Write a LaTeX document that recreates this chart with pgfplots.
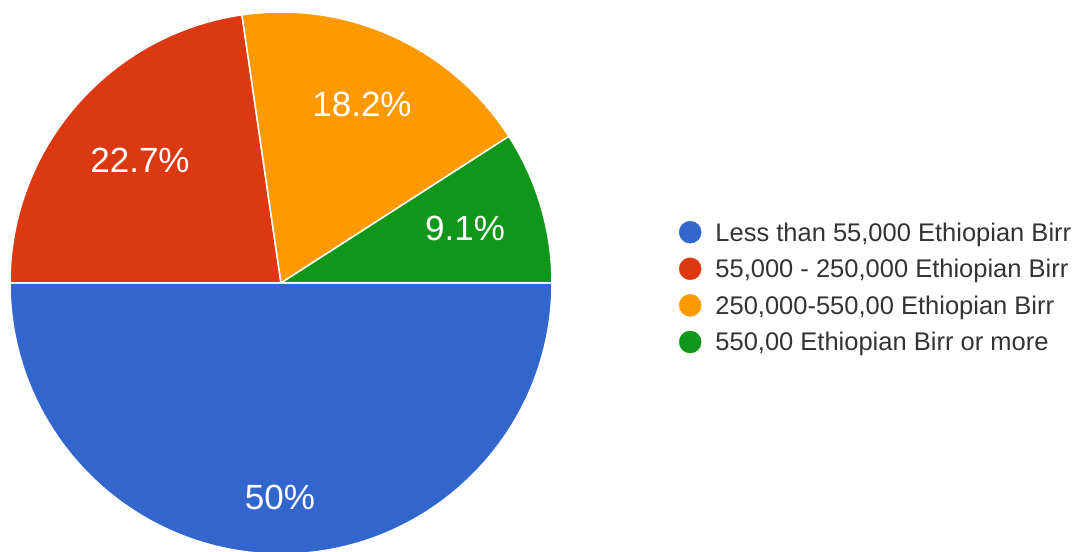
\documentclass[border=0pt]{standalone}
\usepackage{pgfplots}
\pgfplotsset{compat=1.18}
\usepackage{fontspec}
\setmainfont{Liberation Sans}
\definecolor{gblue}{HTML}{3366CC}
\definecolor{gred}{HTML}{DC3912}
\definecolor{gorange}{HTML}{FF9900}
\definecolor{ggreen}{HTML}{109618}
\definecolor{gtext}{HTML}{333333}
\begin{document}
\begin{tikzpicture}
\begin{axis}[
  at={(0,0)}, anchor=south west,
  x=1bp, y=1bp, xmin=0, xmax=1081, ymin=0, ymax=552,
  hide axis, clip=true,
  legend image code/.code={\fill (0bp,2bp) circle (11bp);},
  legend cell align=left,
  legend style={at={(axis cs:679,331)}, anchor=north west, draw=none, fill=none,
    inner sep=0pt, outer sep=0pt, row sep=11.4bp, column sep=14bp,
    font=\fontsize{25.5bp}{30bp}\selectfont, text=gtext,
    nodes={inner sep=0pt, text height=19bp, text depth=5bp}},
]
% pie values (percent): 50, 22.7, 18.2, 9.1 ; angles = value*3.6, clockwise from 3 o'clock
\filldraw[fill=gblue, draw=white, line width=1.5bp, line join=round]
  (axis cs:281,269) -- ++(0:271bp) arc[start angle=0, end angle=-180, radius=271bp] -- cycle;
\filldraw[fill=gred, draw=white, line width=1.5bp, line join=round]
  (axis cs:281,269) -- ++(-180:271bp) arc[start angle=-180, end angle=-261.72, radius=271bp] -- cycle;
\filldraw[fill=gorange, draw=white, line width=1.5bp, line join=round]
  (axis cs:281,269) -- ++(-261.72:271bp) arc[start angle=-261.72, end angle=-327.24, radius=271bp] -- cycle;
\filldraw[fill=ggreen, draw=white, line width=1.5bp, line join=round]
  (axis cs:281,269) -- ++(-327.24:271bp) arc[start angle=-327.24, end angle=-360, radius=271bp] -- cycle;
\node[text=white, font=\fontsize{35bp}{40bp}\selectfont] at (axis cs:280,55) {50\%};
\node[text=white, font=\fontsize{35bp}{40bp}\selectfont] at (axis cs:140,392) {22.7\%};
\node[text=white, font=\fontsize{35bp}{40bp}\selectfont] at (axis cs:362,448) {18.2\%};
\node[text=white, font=\fontsize{35bp}{40bp}\selectfont] at (axis cs:465,324) {9.1\%};
\addlegendimage{gblue}
\addlegendentry{Less than 55,000 Ethiopian Birr}
\addlegendimage{gred}
\addlegendentry{55,000 - 250,000 Ethiopian Birr}
\addlegendimage{gorange}
\addlegendentry{250,000-550,00 Ethiopian Birr}
\addlegendimage{ggreen}
\addlegendentry{550,00 Ethiopian Birr or more}
\end{axis}
\pgfresetboundingbox
\path (0,0) rectangle (1081bp,552bp);
\end{tikzpicture}
\end{document}
